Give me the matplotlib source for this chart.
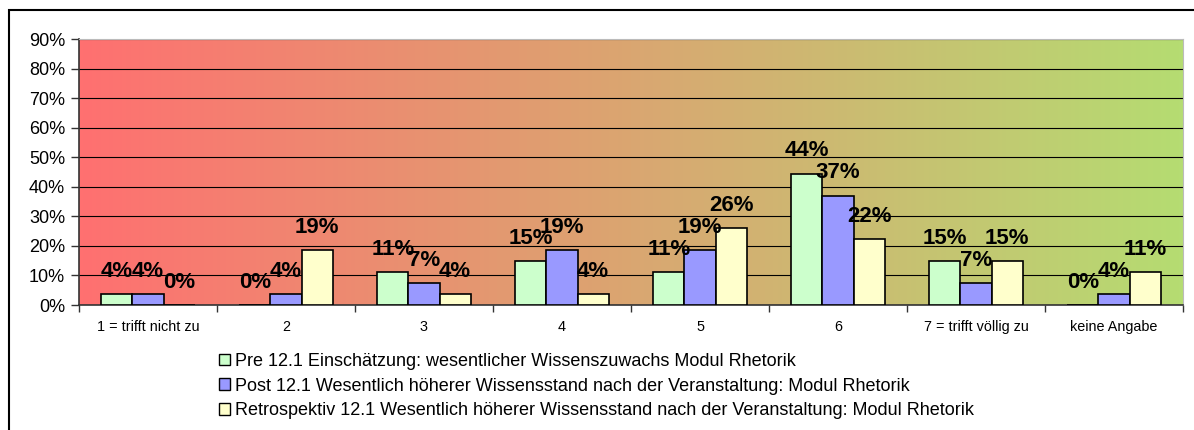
import numpy as np
import matplotlib.pyplot as plt
from matplotlib.patches import Rectangle, Patch
from matplotlib.colors import LinearSegmentedColormap
from matplotlib.ticker import PercentFormatter

plt.rcParams['font.family'] = ['Liberation Sans', 'DejaVu Sans']

# answer categories and shares per series (n = 27)
categories = ['1 = trifft nicht zu', '2', '3', '4', '5', '6', '7 = trifft völlig zu', 'keine Angabe']
pre = [0.0370, 0.0, 0.1111, 0.1481, 0.1111, 0.4444, 0.1481, 0.0]
post = [0.0370, 0.0370, 0.0741, 0.1852, 0.1852, 0.3704, 0.0741, 0.0370]
retro = [0.0, 0.1852, 0.0370, 0.0370, 0.2593, 0.2222, 0.1481, 0.1111]

series_names = [
    'Pre 12.1 Einschätzung: wesentlicher Wissenszuwachs Modul Rhetorik',
    'Post 12.1 Wesentlich höherer Wissensstand nach der Veranstaltung: Modul Rhetorik',
    'Retrospektiv 12.1 Wesentlich höherer Wissensstand nach der Veranstaltung: Modul Rhetorik',
]
colors = ['#CCFFCC', '#9999FF', '#FFFFCC']

W, H = 1194, 430
fig = plt.figure(figsize=(W / 100, H / 100), dpi=100)
ax = fig.add_axes([79 / W, 1 - 305 / H, (1183 - 79) / W, (305 - 39) / H])

# red -> green background across the plot area
grad = LinearSegmentedColormap.from_list('rg', ['#FF7070', '#B5DC72'])
ax.imshow(np.linspace(0, 1, 256).reshape(1, -1), cmap=grad, aspect='auto',
          extent=[-0.5, len(categories) - 0.5, 0, 0.9], zorder=0)

ax.set_xlim(-0.5, len(categories) - 0.5)
ax.set_ylim(0, 0.9)
ax.set_yticks(np.arange(0, 0.91, 0.1))
ax.yaxis.set_major_formatter(PercentFormatter(1.0, decimals=0))
ax.grid(axis='y', color='black', linewidth=0.8, zorder=1)

x = np.arange(len(categories))
bw = 0.225
for i, (vals, col) in enumerate(zip([pre, post, retro], colors)):
    pos = x + (i - 1) * bw
    ax.bar(pos, vals, width=bw, color=col, edgecolor='black', linewidth=1.2, zorder=3)
    for px, v in zip(pos, vals):
        ax.annotate('{:.0%}'.format(v), (px, v), xytext=(0, 9), textcoords='offset points',
                    ha='center', va='bottom', fontsize=16, fontweight='bold', zorder=4)

# category boundaries as ticks, labels in between
ax.set_xticks(np.arange(-0.5, len(categories) - 0.4, 1.0))
ax.set_xticklabels([])
ax.set_xticks(x, minor=True)
ax.set_xticklabels(categories, minor=True, fontsize=10.4)
ax.tick_params(axis='x', which='minor', length=0, pad=11)
ax.tick_params(axis='x', which='major', length=5, width=1, color='#333333')
ax.tick_params(axis='y', length=6, width=1, labelsize=13, pad=4, color='#333333')

for s in ['top', 'right']:
    ax.spines[s].set_color('#BBBBBB')
for s in ['left', 'bottom']:
    ax.spines[s].set_color('#333333')
    ax.spines[s].set_linewidth(1.2)

handles = [Patch(facecolor=c, edgecolor='black', linewidth=1) for c in colors]
fig.legend(handles, series_names, loc='upper left', bbox_to_anchor=(219 / W, 1 - 353 / H),
           frameon=False, fontsize=13, handlelength=0.62, handleheight=0.62,
           handletextpad=0.25, labelspacing=0.42, borderpad=0, borderaxespad=0)

# outer chart border
fig.patches.append(Rectangle((8.5 / W, -0.1), 1.2, 1 - 10.5 / H + 0.1, transform=fig.transFigure,
                             fill=False, edgecolor='black', linewidth=1.5))

fig.savefig('out.png', dpi=100)
